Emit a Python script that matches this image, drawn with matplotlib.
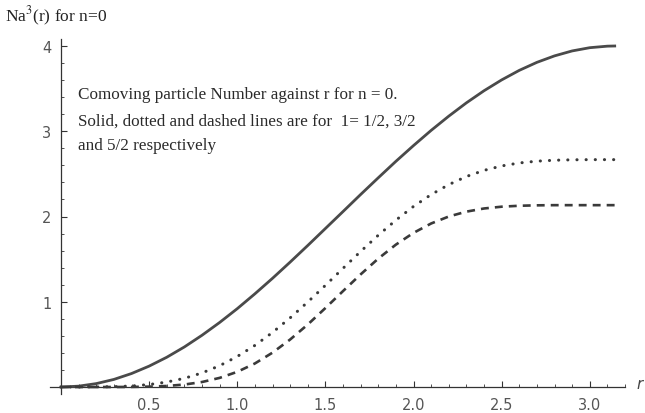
import matplotlib
matplotlib.use('Agg')
import matplotlib.pyplot as plt
from matplotlib.ticker import MultipleLocator

plt.rcParams['mathtext.fontset'] = 'stix'

# r 取值（0 到 pi）
r_vals = [0.0, 0.1, 0.2, 0.3, 0.4, 0.5, 0.6, 0.7, 0.8, 0.9, 1.0,
          1.1, 1.2, 1.3, 1.4, 1.5, 1.6, 1.7, 1.8, 1.9, 2.0,
          2.1, 2.2, 2.3, 2.4, 2.5, 2.6, 2.7, 2.8, 2.9, 3.0, 3.1, 3.1416]

# l = 1/2 实线
solid_vals = [0.0, 0.01, 0.04, 0.089, 0.158, 0.245, 0.349, 0.470, 0.607, 0.757, 0.919,
              1.093, 1.275, 1.465, 1.660, 1.859, 2.058, 2.258, 2.454, 2.647, 2.832,
              3.010, 3.177, 3.333, 3.475, 3.602, 3.714, 3.808, 3.884, 3.942, 3.980, 3.998, 4.0]

# l = 3/2 点线
dotted_vals = [0.0, 0.0, 0.001, 0.004, 0.012, 0.029, 0.058, 0.102, 0.165, 0.250, 0.358,
               0.488, 0.640, 0.811, 0.997, 1.192, 1.392, 1.590, 1.780, 1.957, 2.118,
               2.257, 2.374, 2.469, 2.541, 2.593, 2.628, 2.649, 2.660, 2.665, 2.667, 2.667, 2.667]

# l = 5/2 虚线
dashed_vals = [0.0, 0.0, 0.0, 0.0, 0.001, 0.0045, 0.012, 0.029, 0.0585, 0.107, 0.178,
               0.276, 0.403, 0.557, 0.733, 0.926, 1.125, 1.321, 1.506, 1.670, 1.808,
               1.918, 2.000, 2.057, 2.094, 2.115, 2.126, 2.131, 2.133, 2.133, 2.133, 2.133, 2.133]

note_lines = ['Comoving particle Number against r for n = 0.',
              'Solid, dotted and dashed lines are for  1= 1/2, 3/2',
              'and 5/2 respectively']

fig = plt.figure(figsize=(6.45, 4.14), dpi=100)
ax = fig.add_axes([50 / 645, 19 / 414, 575 / 645, 355 / 414])

line_color = '#4a4a4a'
ax.plot(r_vals, solid_vals, color=line_color, lw=2.0, zorder=3, clip_on=False)
ax.plot(r_vals, dotted_vals, color='#3a3a3a', lw=2.2, linestyle=(0, (0.05, 2.95)),
        dash_capstyle='round', zorder=3, clip_on=False)
ax.plot(r_vals, dashed_vals, color='#3a3a3a', lw=1.9, linestyle=(0, (3.0, 2.3)),
        dash_capstyle='butt', zorder=3, clip_on=False)

ax.set_xlim(-0.0625, 3.2)
ax.set_ylim(-0.082, 4.082)

# Mathematica 风格坐标轴
for side in ['top', 'right']:
    ax.spines[side].set_visible(False)
ax.spines['left'].set_position(('data', 0))
ax.spines['bottom'].set_position(('data', 0))
for side in ['left', 'bottom']:
    ax.spines[side].set_color('#333333')
    ax.spines[side].set_linewidth(0.9)

ax.xaxis.set_major_locator(MultipleLocator(0.5))
ax.xaxis.set_minor_locator(MultipleLocator(0.1))
ax.yaxis.set_major_locator(MultipleLocator(1))
ax.yaxis.set_minor_locator(MultipleLocator(0.2))
ax.set_xticks([0.5, 1.0, 1.5, 2.0, 2.5, 3.0])
ax.set_xticklabels(['0.5', '1.0', '1.5', '2.0', '2.5', '3.0'])
ax.set_yticks([1, 2, 3, 4])
ax.set_yticklabels(['1', '2', '3', '4'])

ax.tick_params(which='major', direction='in', length=4, width=0.8, color='#333333',
               labelsize=10.5, labelcolor='#555555', pad=7)
ax.tick_params(which='minor', direction='in', length=2.2, width=0.6, color='#333333')
for lab in ax.get_xticklabels() + ax.get_yticklabels():
    lab.set_family('DejaVu Sans')

fig.text(5 / 645, 1 - 16 / 414, 'Na$^{3}$(r) for n=0', family='Liberation Serif',
         fontsize=12.5, va='center', ha='left', color='#222222')
fig.text(636 / 645, 1 - 385 / 414, 'r', family='DejaVu Sans', style='italic',
         fontsize=11, va='center', ha='left', color='#444444')

note_y = [3.44, 3.13, 2.84]
for txt, yy in zip(note_lines, note_y):
    ax.text(0.097, yy, txt, family='Liberation Serif', fontsize=12.3,
            va='center', ha='left', color='#2a2a2a')

fig.savefig('out.png', dpi=100)
